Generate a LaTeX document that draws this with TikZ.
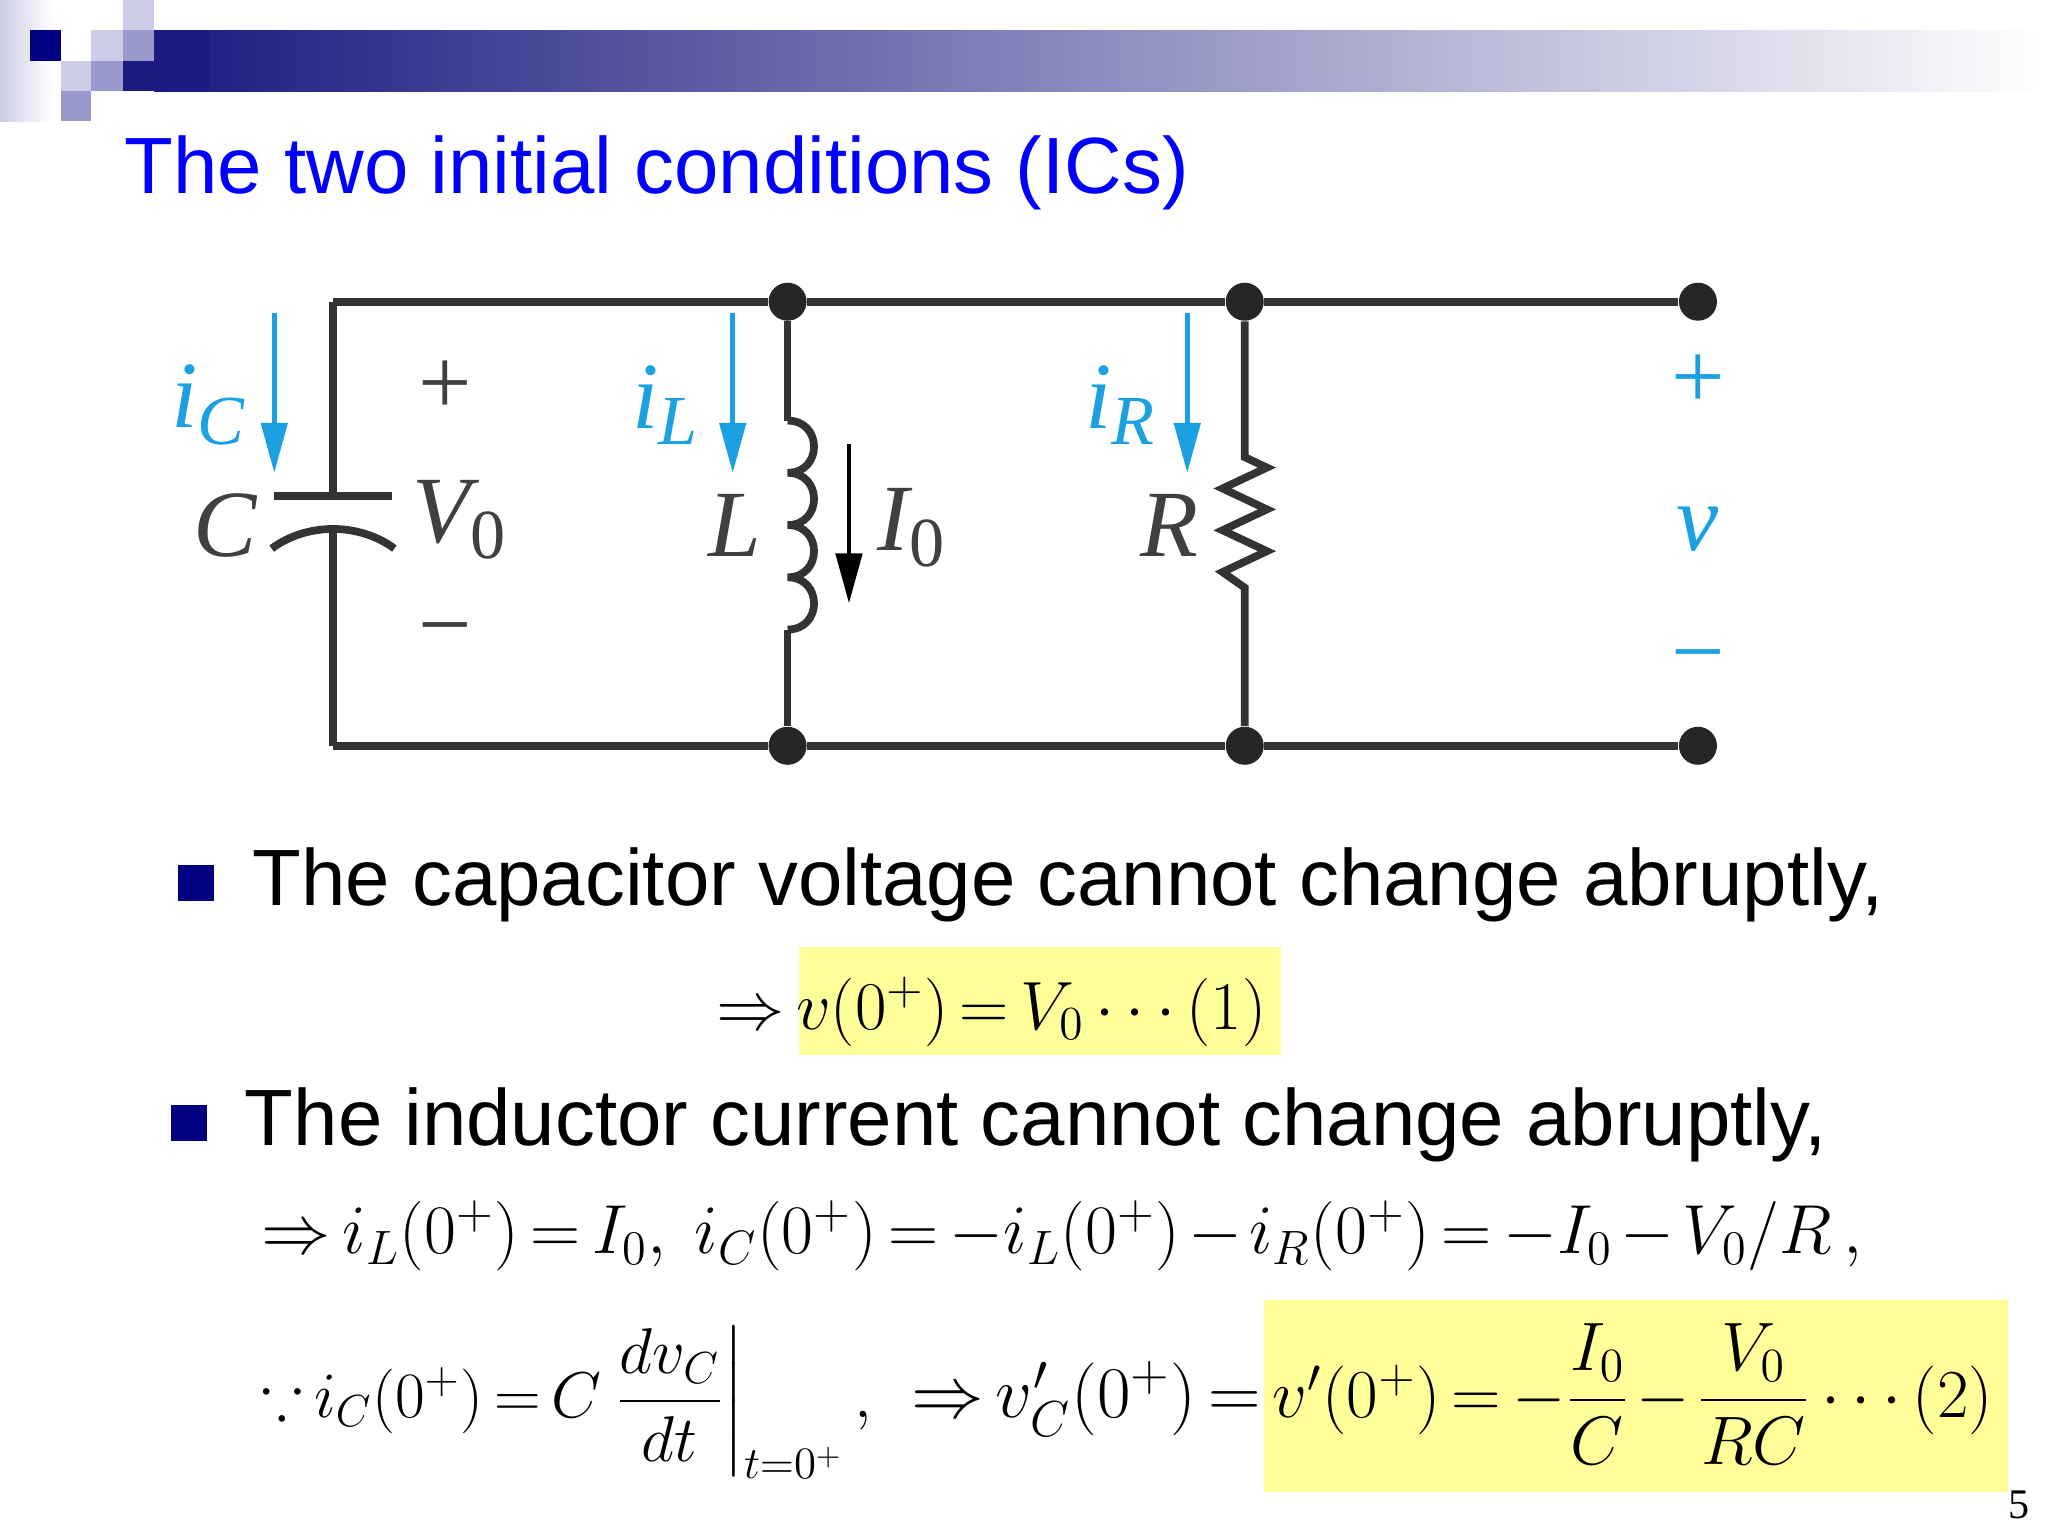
\documentclass[tikz,border=0pt]{standalone}
\usepackage{amsmath,amssymb,graphicx}
\usepackage{fontspec}
\setmainfont{Liberation Serif}
\newfontfamily\arialf{Liberation Sans}
\usetikzlibrary{arrows.meta}
\definecolor{navy}{HTML}{1A1A80}
\definecolor{dnavy}{HTML}{000080}
\definecolor{lav}{HTML}{CCCCE6}
\definecolor{mlav}{HTML}{9999CC}
\definecolor{cyanc}{HTML}{1BA1E2}
\definecolor{hl}{HTML}{FFFF99}
\definecolor{wire}{HTML}{333333}
\newcommand{\sbs}[1]{\textsubscript{\fontsize{20}{20}\selectfont #1}}
\newcommand{\tightm}{\thickmuskip=3mu\relax\medmuskip=2mu\relax}
\newcommand{\fitw}[2]{\resizebox{#1}{!}{\tightm$#2$}}
\tikzset{
 w/.style={wire, line width=2.2pt},
 dot/.style={circle, fill=black!85, minimum size=0.38cm, inner sep=0pt},
 carr/.style={cyanc, line width=1.4pt, -{Triangle[length=0.5cm,width=0.26cm]}},
 lbl/.style={font=\fontsize{27}{30}\selectfont\itshape, text=black!75},
 clbl/.style={font=\fontsize{27}{30}\selectfont\itshape, text=cyanc},
 sgn/.style={font=\fontsize{27}{30}\selectfont, text=black!75},
 btxt/.style={font=\arialf\fontsize{22.7}{26}\selectfont, anchor=base west, inner sep=0},
 eq/.style={font=\fontsize{20}{24}\selectfont, anchor=base west, inner sep=0},
 bul/.style={fill=dnavy, minimum size=0.36cm, inner sep=0pt}
}
\begin{document}
\begin{tikzpicture}[x=0.01306cm,y=-0.01306cm]
\useasboundingbox (0,0) rectangle (1568,1176);
\fill[white] (0,0) rectangle (1568,1176);
% header
\shade[left color=lav, right color=white] (0,0) rectangle (40,93);
\shade[left color=navy, right color=white] (118,23) rectangle (1568,70);
\fill[navy] (94,23) rectangle (160,70);
\fill[dnavy] (23,23) rectangle (47,47);
\fill[lav] (70,23) rectangle (94,47);
\fill[mlav] (94,23) rectangle (118,47);
\fill[lav] (94,0) rectangle (118,23);
\fill[lav] (47,47) rectangle (70,70);
\fill[mlav] (70,47) rectangle (94,70);
\fill[mlav] (47,70) rectangle (70,93);
\node[anchor=base west, text=blue, font=\arialf\fontsize{22.7}{26}\selectfont, inner sep=0] (title) at (95,148) {The two initial conditions (ICs)};
% circuit
\node[dot] (t1) at (603,231) {};
\node[dot] (t2) at (953,231) {};
\node[dot] (t3) at (1300,231) {};
\node[dot] (b1) at (603,571) {};
\node[dot] (b2) at (953,571) {};
\node[dot] (b3) at (1300,571) {};
\coordinate (tl) at (255,231);
\coordinate (bl) at (255,571);
\draw[w] (tl) -- (t1) -- (t2) -- (t3);
\draw[w] (bl) -- (b1) -- (b2) -- (b3);
% capacitor
\draw[w] (tl) -- (255,380);
\draw[w] (210,380) -- (300,380);
\draw[w] (208,420) .. controls (235,400) and (275,400) .. (302,420);
\draw[w] (255,405) -- (bl);
% inductor
\draw[w] (t1) -- (603,322);
\draw[w] (603,322) .. controls (630,322) and (630,362) .. (603,362)
 .. controls (630,362) and (630,402) .. (603,402)
 .. controls (630,402) and (630,442) .. (603,442)
 .. controls (630,442) and (630,482) .. (603,482);
\draw[w] (603,482) -- (b1);
% resistor
\draw[w] (t2) -- (953,350) -- (970,358) -- (936,374) -- (970,390) -- (936,406) -- (970,422) -- (936,438) -- (953,450) -- (b2);
% arrows
\draw[carr] (210,240) -- (210,362);
\draw[carr] (561,240) -- (561,362);
\draw[carr] (909,240) -- (909,362);
\draw[black, line width=1.4pt, -{Triangle[length=0.5cm,width=0.26cm]}] (650,340) -- (650,462);
% labels
\node[clbl] (ic) at (160,310) {i\sbs{C}};
\node[clbl] (il) at (510,310) {i\sbs{L}};
\node[clbl] (ir) at (858,310) {i\sbs{R}};
\node[lbl] (C) at (172,402) {C};
\node[lbl] (V0) at (352,398) {V\sbs{\upshape 0}};
\node[sgn] (cp) at (341,297) {+};
\node[sgn] (cm) at (341,490) {−};
\node[lbl] (L) at (563,402) {L};
\node[lbl] (I0) at (698,404) {I\sbs{\upshape 0}};
\node[lbl] (R) at (895,402) {R};
\node[sgn, text=cyanc] (vp) at (1300,292) {+};
\node[clbl] (v) at (1300,405) {v};
\node[sgn, text=cyanc] (vm) at (1300,510) {−};
% bullets
\node[bul] (bu1) at (150,676) {};
\node[btxt] (tx1) at (193,693) {The capacitor voltage cannot change abruptly,};
\fill[hl] (612,725) rectangle (981,808);
\node[eq] (e1) at (548,788) {\fitw{5.5cm}{\Rightarrow v(0^{+})=V_{0}\cdots(1)}};
\node[bul] (bu2) at (145,860) {};
\node[btxt] (tx2) at (187,877) {The inductor current cannot change abruptly,};
\node[eq] (e2) at (200,960) {\fitw{16cm}{\Rightarrow i_{L}(0^{+})=I_{0},\ i_{C}(0^{+})=-i_{L}(0^{+})-i_{R}(0^{+})=-I_{0}-V_{0}/R\,,}};
\fill[hl] (968,995) rectangle (1537,1142);
\node[eq] (e3a) at (200,1085) {\fitw{6.1cm}{\because i_{C}(0^{+})=C\left.\dfrac{dv_{C}}{dt}\right|_{t=0^{+}},}};
\node[eq, anchor=base east] (e3b) at (966,1085) {\fitw{3.5cm}{\Rightarrow v_{C}'(0^{+})=}};
\node[eq] (e3c) at (974,1085) {\fitw{7.2cm}{v'(0^{+})=-\dfrac{I_{0}}{C}-\dfrac{V_{0}}{RC}\cdots(2)}};
\node[font=\fontsize{12}{14}\selectfont] (pg) at (1546,1152) {5};
\end{tikzpicture}
\end{document}
